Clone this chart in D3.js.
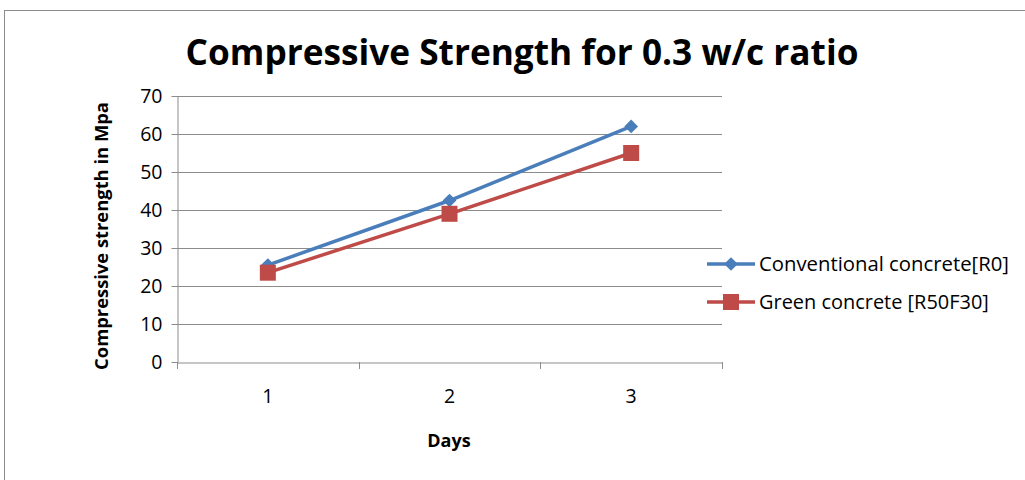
<!DOCTYPE html>
<html><head><meta charset="utf-8">
<script src="https://cdn.jsdelivr.net/npm/d3@7"></script>
<style>body{margin:0;background:#fff}svg{display:block}text{font-family:"Open Sans",Lato,sans-serif}</style>
</head><body><svg id="c" width="1025" height="480"></svg>
<script>
const days = ["1","2","3"];
const conventional = [25.5, 42.5, 62];
const green = [23.5, 39, 55];
const yTicks = [0,10,20,30,40,50,60,70];
const seriesNames = ["Conventional concrete[R0]","Green concrete [R50F30]"];
const colors = ["#4a7ebb","#be4b48"];

const svg = d3.select("#c");
svg.append("rect").attr("x",4.5).attr("y",10.5).attr("width",1040).attr("height",490)
  .attr("fill","#fff").attr("stroke","#8c8c8c").attr("stroke-width",1);

function fit(sel, base, target){
  sel.attr("font-size", base);
  const w = sel.node().getComputedTextLength();
  sel.attr("font-size", base*target/w);
}

const L=177,R=722,T=96,B=362;
const x = d3.scaleBand().domain(days).range([L,R]);
const y = d3.scaleLinear().domain([0,70]).range([B,T]);

// gridlines
svg.append("g").selectAll("line").data(yTicks.filter(d=>d>0)).join("line")
  .attr("x1",L).attr("x2",R).attr("y1",d=>Math.round(y(d))+0.5).attr("y2",d=>Math.round(y(d))+0.5)
  .attr("stroke","#8c8c8c");

// y axis
const ya = svg.append("g").attr("transform",`translate(${L+0.5},0)`)
  .call(d3.axisLeft(y).tickValues(yTicks).tickSize(6).tickPadding(6).tickSizeOuter(0));
ya.select(".domain").attr("stroke","#8c8c8c");
ya.selectAll(".tick line").attr("stroke","#8c8c8c");
ya.selectAll(".tick text").attr("font-size",19.5).attr("fill","#000").attr("dx",-3);

// x axis
const xa = svg.append("g").attr("transform",`translate(0,${B+0.5})`)
  .call(d3.axisBottom(x).tickSize(0).tickPadding(27).tickSizeOuter(0));
xa.select(".domain").attr("stroke","#8c8c8c");
xa.selectAll(".tick text").attr("font-size",19.5).attr("fill","#000");
const bounds = days.map(d=>x(d)).concat([x(days[days.length-1])+x.bandwidth()]);
svg.append("g").selectAll("line").data(bounds).join("line")
  .attr("x1",d=>Math.round(d)+0.5).attr("x2",d=>Math.round(d)+0.5)
  .attr("y1",B).attr("y2",B+7).attr("stroke","#8c8c8c");

// axis titles
svg.append("text").attr("x",449).attr("y",447).attr("text-anchor","middle")
  .attr("font-size",18).attr("font-weight","bold").text("Days");
const yl = svg.append("text").attr("transform","translate(108,236) rotate(-90)").attr("text-anchor","middle")
  .attr("font-weight","bold").text("Compressive strength in Mpa");
fit(yl, 18, 268);

// title
const title = svg.append("text").attr("x",522).attr("y",65).attr("text-anchor","middle")
  .attr("font-weight","bold").text("Compressive Strength for 0.3 w/c ratio");
fit(title, 34, 673);

const cx = d=>x(d)+x.bandwidth()/2;
const data = [conventional, green];
const line = d3.line().x((v,i)=>cx(days[i])).y(v=>y(v));
data.forEach((s,k)=>{
  svg.append("path").attr("d",line(s)).attr("fill","none").attr("stroke",colors[k]).attr("stroke-width",3.5);
});
const diamond = d3.symbol().type(d3.symbolDiamond2).size(120);
const square = d3.symbol().type(d3.symbolSquare).size(256);
svg.append("g").selectAll("path").data(conventional).join("path")
  .attr("transform",(v,i)=>`translate(${cx(days[i])},${y(v)})`)
  .attr("d",diamond()).attr("fill",colors[0]);
svg.append("g").selectAll("path").data(green).join("path")
  .attr("transform",(v,i)=>`translate(${cx(days[i])},${y(v)})`)
  .attr("d",square()).attr("fill",colors[1]);

// legend
const ly=[264,302];
const lw=[250,230];
seriesNames.forEach((n,k)=>{
  const g = svg.append("g");
  g.append("line").attr("x1",707).attr("x2",755).attr("y1",ly[k]).attr("y2",ly[k]).attr("stroke",colors[k]).attr("stroke-width",3.5);
  g.append("path").attr("transform",`translate(731,${ly[k]})`).attr("d",k===0?diamond():square()).attr("fill",colors[k]);
  const t = g.append("text").attr("x",759).attr("y",ly[k]+7).attr("fill","#000").text(n);
  fit(t, 19, lw[k]);
});
</script></body></html>
